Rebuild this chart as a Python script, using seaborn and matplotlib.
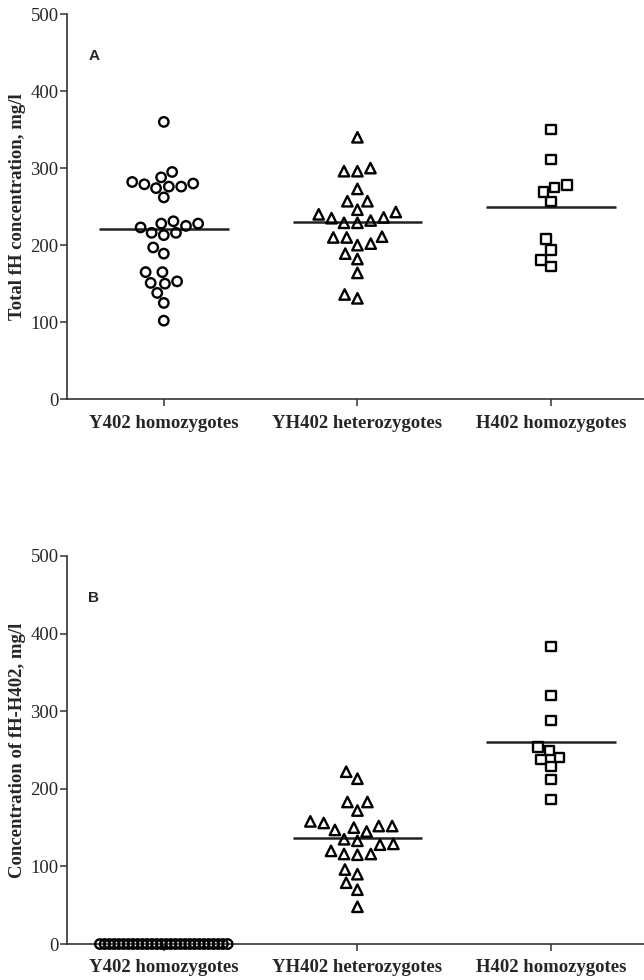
import numpy as np
import pandas as pd
import matplotlib
matplotlib.use("Agg")
import matplotlib.pyplot as plt
import seaborn as sns

# genotype groups and their marker shapes
groups = ["Y402 homozygotes", "YH402 heterozygotes", "H402 homozygotes"]
markers = ["o", "^", "s"]

# Panel A: total fH concentration, mg/l
total_y402 = [360, 295, 288, 280, 282, 276, 274, 276, 279, 262,
              228, 225, 216, 213, 216, 223, 228, 231, 197, 189,
              165, 165, 153, 150, 151, 138, 125, 102]
total_yh402 = [340, 300, 296, 296, 273, 257, 257, 243, 236, 232,
               229, 229, 235, 240, 246, 210, 202, 210, 211, 200,
               189, 182, 164, 131, 136]
total_h402 = [350, 311, 275, 278, 269, 257, 208, 194, 181, 172]

# Panel B: concentration of fH-H402, mg/l
fh402_y402 = [0, 0, 0, 0, 0, 0, 0, 0, 0, 0, 0, 0, 0, 0,
              0, 0, 0, 0, 0, 0, 0, 0, 0, 0, 0, 0, 0, 0]
fh402_yh402 = [222, 213, 183, 183, 172, 152, 158, 147, 156, 145,
               150, 152, 135, 129, 128, 133, 120, 116, 115, 116,
               90, 96, 79, 70, 48]
fh402_h402 = [383, 320, 288, 254, 249, 238, 240, 229, 212, 186]

sns.set_theme(style="ticks")
plt.rcParams["font.family"] = ["Liberation Serif", "DejaVu Serif"]


def draw_panel(ax, series, ylabel, letter):
    for i, (grp, vals, mk) in enumerate(zip(groups, series, markers)):
        df = pd.DataFrame({"genotype": [grp] * len(vals), "value": vals})
        n_before = len(ax.collections)
        flat = min(vals) == max(vals)
        size = 7.5 if mk == "^" else 6.8
        if flat:
            # all values identical: lay them out as one overlapping row
            sns.stripplot(data=df, x="genotype", y="value", order=groups,
                          marker=mk, size=size, jitter=False,
                          color="black", ax=ax, zorder=3)
        else:
            sns.swarmplot(data=df, x="genotype", y="value", order=groups,
                          marker=mk, size=size, warn_thresh=1,
                          color="black", ax=ax, zorder=3)
        for coll in list(ax.collections[n_before:]):
            # seaborn leaves empty scatters for the other categories
            if len(coll.get_offsets()) == 0:
                coll.remove()
                continue
            coll.set_facecolor("none")
            coll.set_edgecolor("black")
            coll.set_linewidth(1.7)
            coll.set_clip_on(False)
            if flat:
                offs = np.asarray(coll.get_offsets()).copy()
                offs[:, 0] = i + np.linspace(-0.33, 0.33, len(offs))
                coll.set_offsets(offs)
        if not flat:
            ax.hlines(np.mean(vals), i - 0.335, i + 0.335,
                      color="#222222", linewidth=1.8, zorder=2)

    ax.set_xlim(-0.5, 2.48)
    ax.set_ylim(0, 500)
    ax.set_yticks([0, 100, 200, 300, 400, 500])
    ax.set_xlabel("")
    ax.set_ylabel(ylabel, fontsize=13.5, fontweight="bold", labelpad=3)
    sns.despine(ax=ax)
    for side in ["left", "bottom"]:
        ax.spines[side].set_linewidth(1.2)
        ax.spines[side].set_color("#333333")
    ax.tick_params(axis="both", length=5, width=1.1, color="#333333")
    ax.tick_params(axis="y", labelsize=13.5, pad=1)
    ax.tick_params(axis="x", labelsize=13.5, pad=6)
    for lab in ax.get_xticklabels():
        lab.set_fontweight("bold")
    ax.text(-0.39, 446, letter, fontsize=11, fontweight="bold",
            family=["Liberation Sans", "DejaVu Sans"],
            ha="left", va="center")


fig = plt.figure(figsize=(6.44, 9.8), dpi=100)
ax_a = fig.add_axes([0.104, 0.5926, 0.896, 0.3931])
ax_b = fig.add_axes([0.104, 0.0367, 0.896, 0.3960])

draw_panel(ax_a, [total_y402, total_yh402, total_h402],
           "Total fH concentration, mg/l", "A")
draw_panel(ax_b, [fh402_y402, fh402_yh402, fh402_h402],
           "Concentration of fH-H402, mg/l", "B")

fig.savefig("out.png", dpi=100, facecolor="white")
